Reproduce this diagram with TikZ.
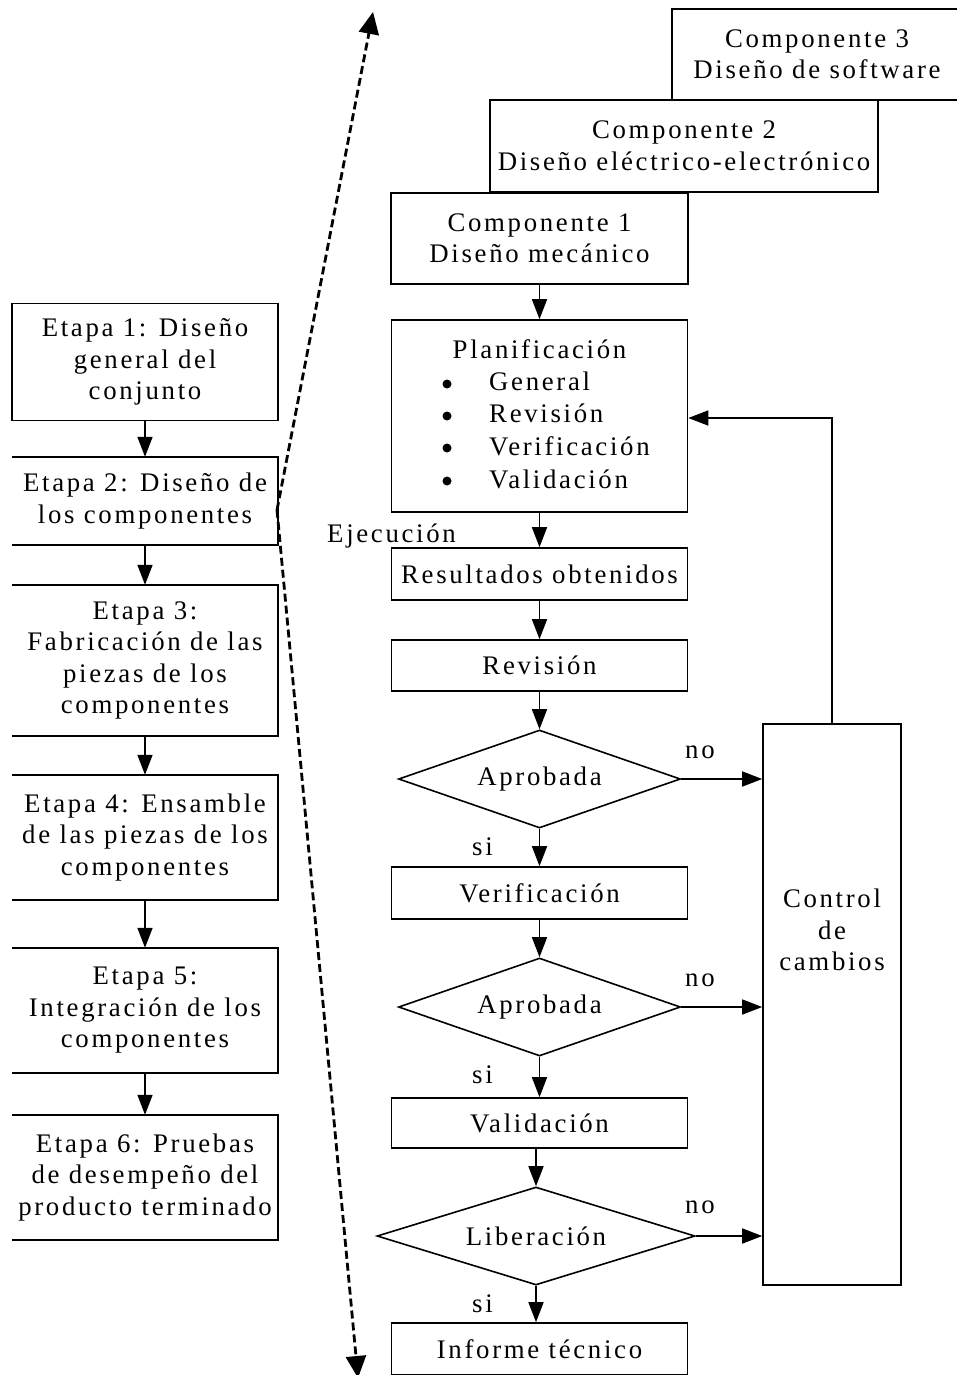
\documentclass[tikz,border=0pt]{standalone}
\usepackage{fontspec}
\setmainfont{Liberation Serif}[LetterSpace=10]
\usetikzlibrary{arrows.meta,shapes.geometric}
\begin{document}
\begin{tikzpicture}[x=1pt,y=-1pt,
  every node/.style={font=\fontsize{26.8}{31.5}\selectfont, inner sep=0pt},
  box/.style={draw, line width=1.6pt, align=center},
  openbox/.style={align=center},
  decision/.style={draw, diamond, aspect=3, line width=1.6pt, align=center},
  bulletdot/.style={circle, fill, minimum size=9pt},
  edge/.style={line width=1.6pt},
  flow/.style={line width=1.6pt, -{Triangle[length=20pt,width=15pt]}},
  dashflow/.style={line width=2.8pt, dash pattern=on 8pt off 4pt, -{Triangle[length=22pt,width=20pt]}},
  lbl/.style={anchor=base west}
]
\useasboundingbox (0,0) rectangle (957,1375);
\clip (0,0) rectangle (957,1375);

% component stack
\node[box, minimum width=290, minimum height=91] (c3) at (817,54.5) {Componente 3\\Diseño de software};
\node[box, minimum width=388, minimum height=92] (c2) at (684,146) {Componente 2\\Diseño eléctrico-electrónico};
\node[box, fill=white, minimum width=297, minimum height=91] (c1) at (539.5,238.5) {Componente 1\\Diseño mecánico};

% planning box
\node[box, minimum width=296, minimum height=192] (plan) at (539.5,416) {};
\node[anchor=base] (planT) at (539.5,358) {Planificación};
\node[bulletdot] (bul1) at (447,384) {};
\node[bulletdot] (bul2) at (447,416) {};
\node[bulletdot] (bul3) at (447,448) {};
\node[bulletdot] (bul4) at (447,481) {};
\node[lbl] (pl1) at (489,390) {General};
\node[lbl] (pl2) at (489,422) {Revisión};
\node[lbl] (pl3) at (489,455) {Verificación};
\node[lbl] (pl4) at (489,488) {Validación};

% main flow
\node[box, minimum width=296, minimum height=52] (res) at (539.5,574) {Resultados obtenidos};
\node[box, minimum width=296, minimum height=51] (rev) at (539.5,665.5) {Revisión};
\node[decision, minimum width=282, minimum height=98] (d1) at (539.5,779) {Aprobada};
\node[box, minimum width=296, minimum height=52] (ver) at (539.5,893) {Verificación};
\node[decision, minimum width=282, minimum height=98] (d2) at (539.5,1007) {Aprobada};
\node[box, minimum width=296, minimum height=50] (val) at (539.5,1123) {Validación};
\node[decision, minimum width=318, minimum height=98] (d3) at (536,1236) {Liberación};
\node[box, minimum width=296, minimum height=52] (inf) at (539.5,1349) {Informe técnico};

% change control
\node[box, minimum width=138, minimum height=561] (ctrl) at (832,1004.5) {};
\node[align=center] (ctrlT) at (832,930) {Control\\de\\cambios};

\node[lbl] (ejec) at (327,542) {Ejecución};
\node[lbl] (no1) at (685,758) {no};
\node[lbl] (no2) at (685,986) {no};
\node[lbl] (no3) at (685,1213) {no};
\node[lbl] (si1) at (472,855) {si};
\node[lbl] (si2) at (472,1083) {si};
\node[lbl] (si3) at (472,1312) {si};

\draw[flow] (c1.south) -- (plan.north);
\draw[flow] (plan.south) -- (res.north);
\draw[flow] (res.south) -- (rev.north);
\draw[flow] (rev.south) -- (d1.north);
\draw[flow] (d1.south) -- (ver.north);
\draw[flow] (ver.south) -- (d2.north);
\draw[flow] (d2.south) -- (val.north);
\draw[flow] (d3.north |- val.south) -- (d3.north);
\draw[flow] (d3.south) -- (d3.south |- inf.north);
\draw[flow] (d1.east) -- (d1.east -| ctrl.west);
\draw[flow] (d2.east) -- (d2.east -| ctrl.west);
\draw[flow] (d3.east) -- (d3.east -| ctrl.west);
\draw[flow] (ctrl.north) |- ([yshift=-2pt]plan.east);

% stages
\node[box, minimum width=266, minimum height=117] (e1) at (145,362) {Etapa 1: Diseño\\general del\\conjunto};
\node[openbox, minimum width=266, minimum height=88] (e2) at (145,501) {Etapa 2: Diseño de\\los componentes};
\node[openbox, minimum width=266, minimum height=151] (e3) at (145,660.5) {Etapa 3:\\Fabricación de las\\piezas de los\\componentes};
\node[openbox, minimum width=266, minimum height=125] (e4) at (145,837.5) {Etapa 4: Ensamble\\de las piezas de los\\componentes};
\node[openbox, minimum width=266, minimum height=125] (e5) at (145,1010.5) {Etapa 5:\\Integración de los\\componentes};
\node[openbox, minimum width=266, minimum height=125] (e6) at (145,1177.5) {Etapa 6: Pruebas\\de desempeño del\\producto terminado};
\foreach \n in {e2,e3,e4,e5,e6}
  \draw[edge] (\n.north west) -- (\n.north east) -- (\n.south east) -- (\n.south west);

\draw[flow] (e1.south) -- (e2.north);
\draw[flow] (e2.south) -- (e3.north);
\draw[flow] (e3.south) -- (e4.north);
\draw[flow] (e4.south) -- (e5.north);
\draw[flow] (e5.south) -- (e6.north);

% expansion of stage 2
\coordinate (pivot) at (277,510);
\coordinate (upTip) at (373,12);
\coordinate (downTip) at (358,1378);
\draw[dashflow] (pivot) -- (upTip);
\draw[dashflow] (pivot) -- (downTip);
\end{tikzpicture}
\end{document}
